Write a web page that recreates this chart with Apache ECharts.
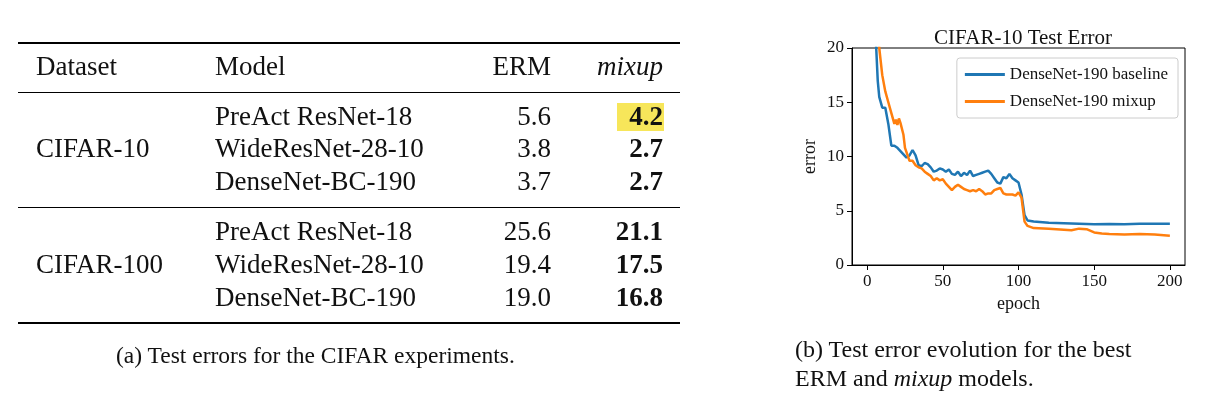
<!DOCTYPE html>
<html><head><meta charset="utf-8">
<script src="https://cdn.jsdelivr.net/npm/echarts@6/dist/echarts.min.js"></script>
<style>
body{margin:0;width:1228px;height:404px;position:relative;background:#fff;font-family:"Liberation Serif",serif;color:#111;overflow:hidden}
.t{position:absolute;font-size:27px;line-height:30px;white-space:nowrap}
.r{text-align:right}
.b{font-weight:bold}
.rule{position:absolute;left:18px;width:662px;background:#000}
#c{position:absolute;left:0;top:0;width:1228px;height:404px}
</style></head><body>
<div id="c"></div>
<div class="rule" style="top:42px;height:2px"></div>
<div class="rule" style="top:92px;height:1px"></div>
<div class="rule" style="top:207px;height:1px"></div>
<div class="rule" style="top:322px;height:2px"></div>
<div id="tbl"></div>
<div class="t" style="left:116px;top:340px;font-size:23.5px">(a) Test errors for the CIFAR experiments.</div>
<div class="t" style="left:795px;top:335px;font-size:24px;line-height:29px">(b) Test error evolution for the best<br>ERM and <i>mixup</i> models.</div>
<script>
const headers=["Dataset","Model","ERM","mixup"];
const datasets=["CIFAR-10","CIFAR-100"];
const models=["PreAct ResNet-18","WideResNet-28-10","DenseNet-BC-190"];
const ermVals=[["5.6","3.8","3.7"],["25.6","19.4","19.0"]];
const mixupVals=[["4.2","2.7","2.7"],["21.1","17.5","16.8"]];

const baselineData=[[0,45],[3,30],[5,22],[6,20],[7,17],[8,15.5],[10,14.5],[12,14.5],[14,13],[16,11],[18,11],[20,10.8],[22,10.5],[24,10.2],[26,9.9],[28,10.1],[30,10.6],[31,10.6],[32,10.1],[34,9.2],[36,9.1],[38,9.4],[40,9.3],[42,9.0],[44,8.6],[46,8.7],[48,8.9],[50,8.8],[52,8.6],[54,8.8],[56,8.4],[58,8.3],[60,8.6],[62,8.2],[64,8.5],[66,8.3],[68,8.7],[70,8.2],[72,8.3],[74,8.4],[76,8.5],[78,8.6],[80,8.7],[82,8.4],[84,8.0],[86,7.6],[88,7.5],[90,8.1],[92,8.0],[94,8.4],[96,8.0],[98,7.8],[100,7.6],[102,6.5],[104,4.6],[106,4.1],[110,4.0],[120,3.9],[130,3.85],[140,3.8],[150,3.75],[160,3.78],[170,3.75],[180,3.8],[190,3.8],[200,3.8]];
const mixupData=[[0,50],[5,30],[8,20],[10,17.5],[12,16],[14,15],[16,14],[18,13],[19,13.4],[20,12.9],[21,13.5],[22,13.1],[24,12.0],[25,10.8],[26,10.4],[28,9.6],[30,9.6],[32,9.2],[34,9.0],[36,8.9],[38,8.6],[40,8.4],[42,8.2],[44,7.8],[46,8.0],[48,7.8],[50,7.9],[52,7.5],[54,7.2],[56,6.9],[58,7.2],[60,7.4],[62,7.2],[64,7.0],[66,6.9],[68,6.8],[70,6.9],[72,6.8],[74,7.0],[76,6.8],[78,6.5],[80,6.6],[82,6.6],[84,6.9],[86,7.0],[88,7.1],[90,6.6],[92,6.5],[94,6.5],[96,6.5],[98,6.4],[100,6.7],[102,6.2],[104,4.0],[106,3.6],[110,3.4],[120,3.35],[130,3.25],[135,3.2],[140,3.35],[145,3.3],[150,3.0],[155,2.9],[160,2.85],[170,2.8],[180,2.85],[190,2.8],[200,2.7]];
const xTicks=[0,50,100,150,200];

let h='';
const rowTop=[101,133,166,216,249,282];
h+=`<div class="t" style="left:36px;top:51px">${headers[0]}</div>`;
h+=`<div class="t" style="left:215px;top:51px">${headers[1]}</div>`;
h+=`<div class="t r" style="left:451px;width:100px;top:51px">${headers[2]}</div>`;
h+=`<div class="t r" style="left:563px;width:100px;top:51px"><i>${headers[3]}</i></div>`;
h+=`<div style="position:absolute;left:617px;top:103px;width:47px;height:28px;background:#f7e65a"></div>`;
datasets.forEach((d,i)=>{
  h+=`<div class="t" style="left:36px;top:${rowTop[i*3+1]}px">${d}</div>`;
  models.forEach((m,j)=>{
    const y=rowTop[i*3+j];
    h+=`<div class="t" style="left:215px;top:${y}px">${m}</div>`;
    h+=`<div class="t r" style="left:451px;width:100px;top:${y}px">${ermVals[i][j]}</div>`;
    h+=`<div class="t r b" style="left:563px;width:100px;top:${y}px">${mixupVals[i][j]}</div>`;
  });
});
document.getElementById('tbl').innerHTML=h;

const chart=echarts.init(document.getElementById('c'));
const F='Liberation Serif';
chart.setOption({
  animation:false,
  title:{text:'CIFAR-10 Test Error',left:1018,top:23,textAlign:'center',textStyle:{fontFamily:F,fontSize:21,fontWeight:'normal',color:'#111'}},
  grid:{left:852,right:43,top:48,bottom:139,show:true,borderColor:'#000',borderWidth:1},
  legend:{right:50,top:58,orient:'vertical',itemWidth:40,itemHeight:3,itemGap:10,padding:[8,10,8,8],
    borderColor:'#ccc',borderWidth:1,borderRadius:3,backgroundColor:'#fff',
    textStyle:{fontFamily:F,fontSize:17,color:'#111'},icon:'rect'},
  xAxis:{type:'value',min:-10,max:210,name:'epoch',nameLocation:'middle',nameGap:27,
    nameTextStyle:{fontFamily:F,fontSize:18,color:'#111'},
    axisLine:{show:true,onZero:false,lineStyle:{color:'#000'}},axisTick:{show:true,customValues:xTicks,lineStyle:{color:'#000'}},
    axisLabel:{customValues:xTicks,fontFamily:F,fontSize:17,color:'#111'},splitLine:{show:false}},
  yAxis:{type:'value',min:0,max:20,interval:5,name:'error',nameLocation:'middle',nameGap:33,
    nameTextStyle:{fontFamily:F,fontSize:18,color:'#111'},
    axisLine:{show:true,onZero:false,lineStyle:{color:'#000'}},axisTick:{show:true,lineStyle:{color:'#000'}},
    axisLabel:{fontFamily:F,fontSize:17,color:'#111'},splitLine:{show:false}},
  series:[
    {name:'DenseNet-190 baseline',type:'line',data:baselineData,showSymbol:false,clip:true,lineStyle:{color:'#1f77b4',width:2.5},itemStyle:{color:'#1f77b4'}},
    {name:'DenseNet-190 mixup',type:'line',data:mixupData,showSymbol:false,clip:true,lineStyle:{color:'#ff7f0e',width:2.5},itemStyle:{color:'#ff7f0e'}}
  ]
});
</script></body></html>
